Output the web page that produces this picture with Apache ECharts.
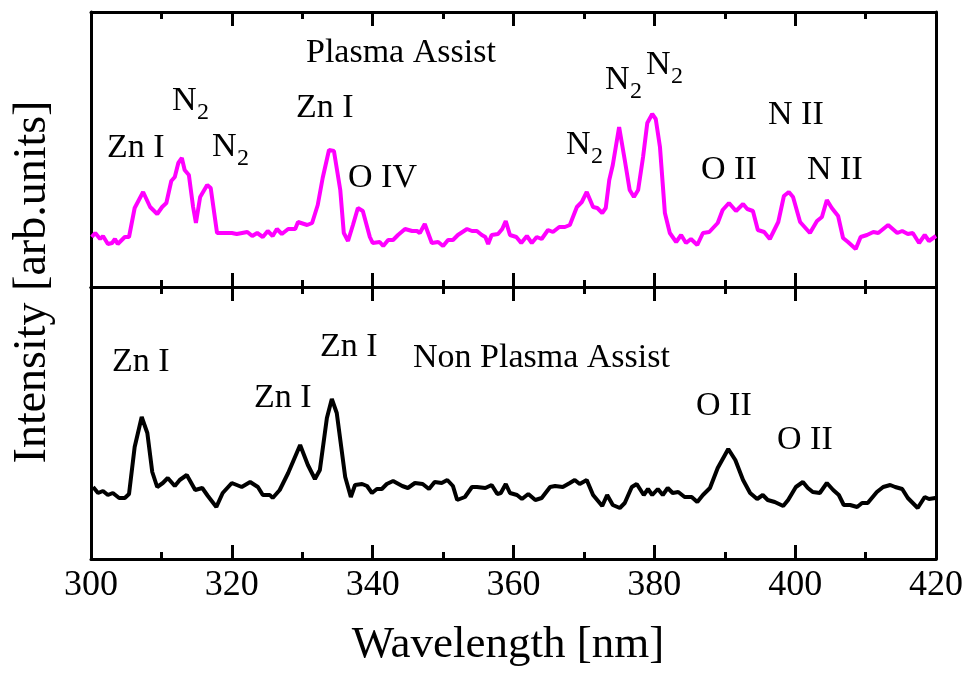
<!DOCTYPE html>
<html>
<head>
<meta charset="utf-8">
<script src="https://cdn.jsdelivr.net/npm/echarts@6/dist/echarts.min.js"></script>
<style>
  html, body { margin: 0; padding: 0; background: #fff; }
  #chart { width: 970px; height: 674px; }
</style>
</head>
<body>
<div id="chart"></div>
<script>
// Emission spectra, wavelength in nm, intensity in arbitrary units
const plasmaWavelength = [
  300.1, 300.6, 301.3, 301.7, 302.4, 303.0, 303.4, 303.8, 304.8, 305.4,
  306.2, 307.4, 308.4, 309.4, 310.1, 310.7, 311.4, 311.9, 312.4, 312.9,
  313.3, 313.9, 314.5, 314.9, 315.5, 316.5, 317.0, 317.9, 319.3, 320.0,
  320.7, 322.2, 322.9, 323.6, 324.4, 325.1, 325.8, 326.4, 327.1, 328.0,
  329.0, 329.4, 330.7, 331.4, 332.2, 332.9, 333.8, 334.5, 335.4, 335.9,
  336.5, 337.2, 337.9, 338.6, 339.6, 340.0, 341.0, 341.5, 342.2, 342.9,
  343.6, 344.6, 345.6, 346.3, 346.7, 347.4, 348.4, 349.3, 350.0, 350.7,
  351.4, 352.1, 353.4, 354.1, 354.8, 355.5, 356.0, 356.4, 356.9, 357.8,
  358.4, 358.9, 359.5, 360.4, 361.1, 361.9, 362.6, 363.3, 364.0, 364.9,
  365.6, 366.5, 367.3, 368.0, 369.0, 369.7, 370.4, 371.3, 371.9, 372.6,
  373.1, 373.6, 374.1, 375.0, 375.8, 376.5, 377.1, 377.7, 378.4, 379.0,
  379.7, 380.2, 380.8, 381.5, 382.2, 383.1, 383.8, 384.5, 385.2, 386.1,
  386.9, 387.8, 389.0, 389.7, 390.6, 391.6, 392.6, 393.2, 394.0, 394.7,
  395.6, 396.4, 397.6, 398.4, 399.1, 399.7, 400.7, 402.1, 403.1, 403.8,
  404.5, 405.2, 406.1, 406.8, 407.5, 408.6, 409.3, 410.2, 411.1, 411.8,
  413.2, 414.5, 415.2, 416.0, 416.7, 417.6, 418.4, 419.0, 420.0
];
const plasmaIntensity = [
  50, 54, 48, 51, 43, 44, 48, 43, 50, 50,
  79, 95, 80, 73, 80, 84, 106, 110, 124, 129,
  117, 112, 80, 64, 90, 102, 99, 54, 54, 54,
  53, 55, 51, 54, 50, 56, 51, 58, 53, 58,
  58, 65, 62, 64, 82, 109, 137, 136, 97, 54,
  46, 62, 79, 76, 50, 44, 45, 41, 47, 47,
  52, 58, 56, 56, 54, 63, 44, 45, 41, 47,
  47, 52, 58, 56, 56, 52, 50, 43, 52, 53,
  58, 66, 52, 50, 44, 51, 44, 50, 48, 57,
  55, 60, 60, 62, 80, 85, 95, 80, 79, 74,
  79, 107, 122, 160, 127, 97, 90, 97, 130, 164,
  173, 168, 140, 74, 54, 45, 52, 44, 48, 42,
  54, 55, 64, 77, 84, 76, 83, 78, 76, 57,
  55, 48, 65, 91, 95, 90, 65, 54, 66, 70,
  87, 79, 71, 49, 45, 38, 50, 52, 55, 54,
  62, 54, 56, 53, 54, 44, 52, 46, 51
];

const nonPlasmaWavelength = [
  300.3, 301.0, 301.7, 302.4, 303.1, 304.0, 304.8, 305.4, 306.2, 307.2,
  308.0, 308.7, 309.4, 310.2, 310.9, 311.9, 312.6, 313.6, 314.8, 315.8,
  316.6, 317.8, 318.7, 320.0, 321.4, 322.6, 323.7, 324.4, 325.4, 325.8,
  326.8, 328.0, 329.7, 330.8, 331.8, 332.5, 333.5, 334.2, 334.9, 336.1,
  336.9, 337.5, 338.5, 339.2, 339.9, 340.6, 341.3, 342.0, 342.9, 344.2,
  345.0, 346.0, 347.1, 348.0, 348.8, 349.8, 350.6, 351.4, 352.0, 353.1,
  354.1, 354.8, 356.0, 356.9, 357.7, 358.2, 358.9, 359.5, 360.5, 361.2,
  362.1, 363.1, 364.0, 365.2, 365.9, 367.0, 368.0, 368.7, 369.4, 370.4,
  371.3, 372.6, 373.3, 374.1, 375.1, 375.8, 376.8, 377.5, 378.5, 379.1,
  379.7, 380.5, 381.2, 381.9, 382.6, 383.4, 384.3, 385.3, 386.1, 386.9,
  387.9, 389.0, 390.5, 391.5, 392.6, 393.6, 394.6, 395.4, 396.1, 397.1,
  398.3, 399.0, 400.1, 401.1, 401.8, 402.5, 403.5, 404.5, 405.4, 406.2,
  406.9, 407.8, 408.8, 409.5, 410.3, 411.6, 412.5, 413.5, 414.2, 415.2,
  416.0, 416.7, 417.4, 418.4, 419.0, 419.9
];
const nonPlasmaIntensity = [
  72, 66, 68, 64, 66, 61, 61, 65, 112, 142,
  126, 87, 72, 76, 81, 73, 79, 84, 69, 71,
  63, 52, 66, 76, 72, 77, 72, 64, 64, 61,
  69, 86, 114, 94, 80, 89, 141, 160, 146, 82,
  62, 74, 75, 73, 66, 70, 70, 75, 78, 73,
  71, 76, 75, 70, 77, 76, 79, 73, 59, 62,
  72, 72, 71, 74, 65, 66, 75, 66, 64, 60,
  65, 59, 61, 72, 73, 72, 76, 79, 75, 79,
  64, 53, 64, 54, 51, 56, 72, 75, 64, 70,
  64, 70, 64, 71, 66, 67, 62, 62, 57, 64,
  71, 91, 110, 99, 79, 66, 60, 64, 59, 57,
  53, 59, 72, 77, 71, 67, 66, 76, 69, 64,
  54, 54, 52, 56, 56, 67, 72, 74, 72, 70,
  61, 56, 51, 62, 60, 61
];

const xTicks = { min: 300, max: 420, step: 20 };

// Species labels: text, optional subscript, pixel anchor (left, middle)
const plasmaLabels = [
  { text: 'Plasma Assist', x: 306, y: 53 },
  { text: 'Zn I', x: 107, y: 148 },
  { text: 'N', sub: '2', x: 172, y: 101 },
  { text: 'N', sub: '2', x: 212, y: 147 },
  { text: 'Zn I', x: 296, y: 108 },
  { text: 'O IV', x: 348, y: 178 },
  { text: 'N', sub: '2', x: 566, y: 145 },
  { text: 'N', sub: '2', x: 605, y: 80 },
  { text: 'N', sub: '2', x: 646, y: 65 },
  { text: 'O II', x: 701, y: 170 },
  { text: 'N II', x: 768, y: 115 },
  { text: 'N II', x: 807, y: 170 }
];
const nonPlasmaLabels = [
  { text: 'Zn I', x: 112, y: 362 },
  { text: 'Zn I', x: 254, y: 398 },
  { text: 'Zn I', x: 320, y: 347 },
  { text: 'Non Plasma Assist', x: 413, y: 358 },
  { text: 'O II', x: 696, y: 406 },
  { text: 'O II', x: 777, y: 440 }
];

const FONT = '"Liberation Serif", "Times New Roman", serif';
const chart = echarts.init(document.getElementById('chart'), null, { renderer: 'canvas' });

function pairs(xs, ys) {
  return xs.map((x, i) => [x, ys[i]]);
}

function labelGraphics(list) {
  const out = [];
  list.forEach(l => {
    out.push({
      type: 'text', x: l.x, y: l.y,
      style: { text: l.text, font: '34px ' + FONT, fill: '#000', textVerticalAlign: 'middle' }
    });
    if (l.sub) {
      out.push({
        type: 'text', x: l.x + 25, y: l.y + 12,
        style: { text: l.sub, font: '24px ' + FONT, fill: '#000', textVerticalAlign: 'middle' }
      });
    }
  });
  return out;
}

function xAxisDef(gridIndex, position, showLabels) {
  return {
    type: 'value', gridIndex, position,
    min: xTicks.min, max: xTicks.max, interval: xTicks.step,
    axisLine: { show: true, onZero: false, lineStyle: { color: '#000', width: 3 } },
    axisTick: { show: true, inside: true, length: 14, lineStyle: { color: '#000', width: 3 } },
    minorTick: { show: true, splitNumber: 2, length: 7, lineStyle: { color: '#000', width: 3 } },
    axisLabel: showLabels ? {
      show: true, margin: 9, color: '#000', fontSize: 36, fontFamily: FONT
    } : { show: false },
    splitLine: { show: false }
  };
}

function yAxisDef(gridIndex, position, max) {
  return {
    type: 'value', gridIndex, position, min: 0, max,
    axisLine: { show: true, onZero: false, lineStyle: { color: '#000', width: 3 } },
    axisTick: { show: false }, axisLabel: { show: false }, splitLine: { show: false }
  };
}

chart.setOption({
  animation: false,
  backgroundColor: '#fff',
  grid: [
    { left: 91, top: 12, width: 845, height: 275 },
    { left: 91, top: 287, width: 845, height: 272 }
  ],
  xAxis: [
    xAxisDef(0, 'bottom', false),
    xAxisDef(0, 'top', false),
    xAxisDef(1, 'bottom', true),
    xAxisDef(1, 'top', false)
  ],
  yAxis: [
    yAxisDef(0, 'left', 275),
    yAxisDef(0, 'right', 275),
    yAxisDef(1, 'left', 272),
    yAxisDef(1, 'right', 272)
  ],
  series: [
    {
      name: 'Plasma Assist', type: 'line', xAxisIndex: 0, yAxisIndex: 0,
      data: pairs(plasmaWavelength, plasmaIntensity),
      showSymbol: false, lineStyle: { color: '#ff00ff', width: 4 }
    },
    {
      name: 'Non Plasma Assist', type: 'line', xAxisIndex: 2, yAxisIndex: 2,
      data: pairs(nonPlasmaWavelength, nonPlasmaIntensity),
      showSymbol: false, lineStyle: { color: '#000', width: 4 }
    }
  ],
  graphic: [
    {
      type: 'text', x: 508, y: 645,
      style: { text: 'Wavelength [nm]', font: '45px ' + FONT, fill: '#000',
               textAlign: 'center', textVerticalAlign: 'middle' }
    },
    {
      type: 'text', x: 33, y: 282, rotation: Math.PI / 2,
      style: { text: 'Intensity [arb.units]', font: '46px ' + FONT, fill: '#000',
               textAlign: 'center', textVerticalAlign: 'middle' }
    }
  ].concat(labelGraphics(plasmaLabels), labelGraphics(nonPlasmaLabels))
});
</script>
</body>
</html>
